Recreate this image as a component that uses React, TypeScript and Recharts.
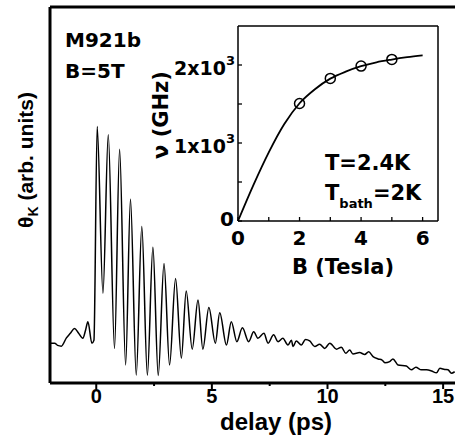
import { LineChart, Line, XAxis, YAxis, ComposedChart, Scatter } from "recharts";

const FONT_A = "'Liberation Sans', Arial, sans-serif";
const FONT_D = "'DejaVu Sans', sans-serif";

// Kerr rotation trace, delay in ps, signal in arb. units
const preDelay = [-2.0, -1.8, -1.67, -1.51, -1.29, -1.11, -0.94, -0.77, -0.58, -0.46, -0.36, -0.19, -0.1];
const preSignal = [10.6, 10.6, 10.0, 9.8, 12.0, 13.3, 14.5, 13.3, 11.9, 14.1, 16.3, 10.6, 11.4];

const oscDelay = [
  0.04, 0.29, 0.52, 0.79, 1.01, 1.27, 1.48, 1.73, 1.97, 2.21, 2.45, 2.68, 2.93, 3.17, 3.43, 3.68,
  3.89, 4.15, 4.4, 4.61, 4.87, 5.15, 5.34, 5.63, 5.84, 6.08, 6.32, 6.59, 6.81, 6.99, 7.25, 7.43,
];
const oscSignal = [
  68.2, 23.9, 66.0, 9.2, 62.2, 4.8, 48.9, 2.1, 41.6, 2.1, 36.1, 2.0, 31.8, 4.8, 27.8, 6.6,
  24.5, 9.0, 22.1, 9.0, 20.1, 10.6, 18.7, 10.1, 16.3, 11.0, 14.7, 11.0, 13.6, 11.9, 13.2, 10.6,
];

const tailDelay = [
  7.67, 7.86, 8.07, 8.29, 8.44, 8.51, 8.65, 8.87, 9.05, 9.23, 9.45, 9.66, 9.88, 10.1, 10.39, 10.6,
  10.79, 10.96, 11.1, 11.39, 11.61, 11.78, 11.97, 12.19, 12.36, 12.48, 12.69, 12.83, 13.05, 13.41,
  13.63, 13.82, 14.06, 14.28, 14.5, 14.71, 14.86, 15.07, 15.21, 15.36, 15.5,
];
const tailSignal = [
  12.8, 11.0, 11.9, 10.1, 11.4, 9.7, 11.2, 10.1, 11.6, 11.2, 9.7, 10.3, 9.2, 10.6, 9.0, 9.5,
  7.9, 8.8, 7.7, 8.1, 7.6, 8.3, 7.0, 6.4, 6.1, 5.4, 5.7, 6.4, 4.8, 4.5,
  3.5, 4.2, 3.5, 3.5, 3.2, 2.7, 3.9, 3.6, 3.5, 2.6, 3.0,
];

const delayTicks = [0, 2.5, 5, 7.5, 10, 12.5, 15];

// inset: precession frequency vs field
const fieldB = [2, 3, 4, 5];
const freqGHz = [1507, 1828, 1986, 2072];
const fitB = [0, 0.5, 1, 1.5, 2, 2.5, 3, 3.5, 4, 4.5, 5, 5.5, 6];
const fitGHz = [0, 460, 880, 1240, 1510, 1690, 1825, 1915, 1985, 2035, 2070, 2100, 2125];

const trace = [
  ...preDelay.map((t, i) => ({ t, s: preSignal[i] })),
  ...oscDelay.map((t, i) => ({ t, s: oscSignal[i] })),
  ...tailDelay.map((t, i) => ({ t, s: tailSignal[i] })),
];
const points = fieldB.map((b, i) => ({ b, ghz: freqGHz[i] }));
const fit = fitB.map((b, i) => ({ b, ghz: fitGHz[i] }));

const MainTick = (props: any) => {
  const { x, y, payload } = props;
  const major = payload.value % 5 === 0;
  return (
    <g>
      <line x1={x} y1={y} x2={x} y2={y + (major ? 6 : 3)} stroke="#000" strokeWidth={2} />
      {major && (
        <text x={x} y={403} textAnchor="middle" fontFamily={FONT_A} fontWeight="bold" fontSize={20} fill="#000">
          {payload.value}
        </text>
      )}
    </g>
  );
};

const InsetBottomTick = (props: any) => {
  const { x, y, payload } = props;
  return (
    <g>
      <line x1={x} y1={y} x2={x} y2={y - 4} stroke="#000" strokeWidth={1.3} />
      {payload.value % 2 === 0 && (
        <text x={x} y={y + 24} textAnchor="middle" fontFamily={FONT_D} fontWeight="bold" fontSize={20} fill="#000">
          {payload.value}
        </text>
      )}
    </g>
  );
};

const InsetTopTick = (props: any) => {
  const { x, y } = props;
  return <line x1={x} y1={y} x2={x} y2={y + 4} stroke="#000" strokeWidth={1.3} />;
};

const InsetLeftTick = (props: any) => {
  const { x, y, payload } = props;
  const v = payload.value;
  let label = null;
  if (v === 0) {
    label = (
      <text x={x - 4} y={y + 4.5} textAnchor="end" fontFamily={FONT_D} fontWeight="bold" fontSize={20} fill="#000">
        0
      </text>
    );
  } else if (v % 1000 === 0) {
    label = (
      <text x={x - 3} y={y + 10} textAnchor="end" fontFamily={FONT_D} fontWeight="bold" fontSize={19} fill="#000">
        {v / 1000}x10
        <tspan dy={-10} fontSize={13}>3</tspan>
      </text>
    );
  }
  return (
    <g>
      <line x1={x} y1={y} x2={x + 4} y2={y} stroke="#000" strokeWidth={1.3} />
      {label}
    </g>
  );
};

const InsetRightTick = (props: any) => {
  const { x, y } = props;
  return <line x1={x} y1={y} x2={x - 4} y2={y} stroke="#000" strokeWidth={1.3} />;
};

export default function App() {
  return (
    <div
      style={{
        position: "absolute",
        left: 0,
        top: 0,
        width: 455,
        height: 442,
        overflow: "hidden",
        background: "#fff",
      }}
    >
      <div style={{ position: "absolute", left: 0, top: 0 }}>
        <LineChart width={470} height={442} data={trace} margin={{ top: 6, right: 13, bottom: 29, left: 10 }}>
          <XAxis
            dataKey="t"
            type="number"
            domain={[-2, 15.6]}
            allowDataOverflow
            ticks={delayTicks}
            interval={0}
            tickSize={0}
            tickMargin={0}
            tickLine={false}
            tick={<MainTick />}
            height={30}
            axisLine={{ stroke: "#000", strokeWidth: 3 }}
          />
          <XAxis
            xAxisId="top"
            orientation="top"
            dataKey="t"
            type="number"
            domain={[-2, 15.6]}
            allowDataOverflow
            tick={false}
            tickLine={false}
            height={1}
            axisLine={{ stroke: "#000", strokeWidth: 3 }}
          />
          <YAxis
            type="number"
            domain={[0, 100]}
            tick={false}
            tickLine={false}
            width={40}
            axisLine={{ stroke: "#000", strokeWidth: 3 }}
          />
          <Line
            dataKey="s"
            type="monotone"
            stroke="#000"
            strokeWidth={1.5}
            strokeLinejoin="round"
            dot={false}
            isAnimationActive={false}
          />
        </LineChart>
      </div>

      <div style={{ position: "absolute", left: 150, top: 0 }}>
        <ComposedChart width={300} height={290} margin={{ top: 25, right: 10, bottom: 29, left: 28 }}>
          <XAxis
            dataKey="b"
            type="number"
            domain={[0, 6.5]}
            ticks={[0, 1, 2, 3, 4, 5, 6]}
            interval={0}
            tickSize={0}
            tickMargin={0}
            tickLine={false}
            tick={<InsetBottomTick />}
            height={40}
            axisLine={{ stroke: "#000", strokeWidth: 1.5 }}
          />
          <XAxis
            xAxisId="top"
            orientation="top"
            dataKey="b"
            type="number"
            domain={[0, 6.5]}
            ticks={[1, 2, 3, 4, 5, 6]}
            interval={0}
            tickSize={0}
            tickMargin={0}
            tickLine={false}
            tick={<InsetTopTick />}
            height={1}
            axisLine={{ stroke: "#000", strokeWidth: 1.5 }}
          />
          <YAxis
            type="number"
            domain={[0, 2500]}
            ticks={[0, 500, 1000, 1500, 2000]}
            interval={0}
            tickSize={0}
            tickMargin={0}
            tickLine={false}
            tick={<InsetLeftTick />}
            width={60}
            axisLine={{ stroke: "#000", strokeWidth: 1.5 }}
          />
          <YAxis
            yAxisId="right"
            orientation="right"
            type="number"
            domain={[0, 2500]}
            ticks={[500, 1000, 1500, 2000]}
            interval={0}
            tickSize={0}
            tickMargin={0}
            tickLine={false}
            tick={<InsetRightTick />}
            width={2}
            axisLine={{ stroke: "#000", strokeWidth: 1.5 }}
          />
          <Line
            data={fit}
            dataKey="ghz"
            type="monotone"
            stroke="#000"
            strokeWidth={1.8}
            dot={false}
            isAnimationActive={false}
          />
          <Scatter
            data={points}
            dataKey="ghz"
            isAnimationActive={false}
            shape={(p: any) => (
              <circle cx={p.cx} cy={p.cy} r={5} fill="none" stroke="#000" strokeWidth={1.5} />
            )}
          />
        </ComposedChart>
      </div>

      <svg
        width={455}
        height={442}
        style={{ position: "absolute", left: 0, top: 0, pointerEvents: "none" }}
      >
        <g fontWeight="bold" fill="#000">
          <text x={65} y={47} fontFamily={FONT_D} fontSize={20}>M921b</text>
          <text x={65} y={78} fontFamily={FONT_D} fontSize={20}>B=5T</text>
          <text transform="translate(33,160) rotate(-90)" textAnchor="middle" fontFamily={FONT_A} fontSize={21}>
            θ<tspan dy={5} fontSize={14}>K</tspan>
            <tspan dy={-5} fontSize={21}> (arb. units)</tspan>
          </text>
          <text x={276} y={430} textAnchor="middle" fontFamily={FONT_A} fontSize={24}>delay (ps)</text>
          <text x={343} y={274} textAnchor="middle" fontFamily={FONT_D} fontSize={21}>B (Tesla)</text>
          <text transform="translate(168,115) rotate(-90)" textAnchor="middle" fontFamily={FONT_D} fontSize={21}>
            ν (GHz)
          </text>
          <text x={325} y={170} fontFamily={FONT_D} fontSize={21}>T=2.4K</text>
          <text x={325} y={200} fontFamily={FONT_D} fontSize={21}>
            T<tspan dy={8} fontSize={13}>bath</tspan>
            <tspan dy={-8} fontSize={21}>=2K</tspan>
          </text>
        </g>
      </svg>
    </div>
  );
}
